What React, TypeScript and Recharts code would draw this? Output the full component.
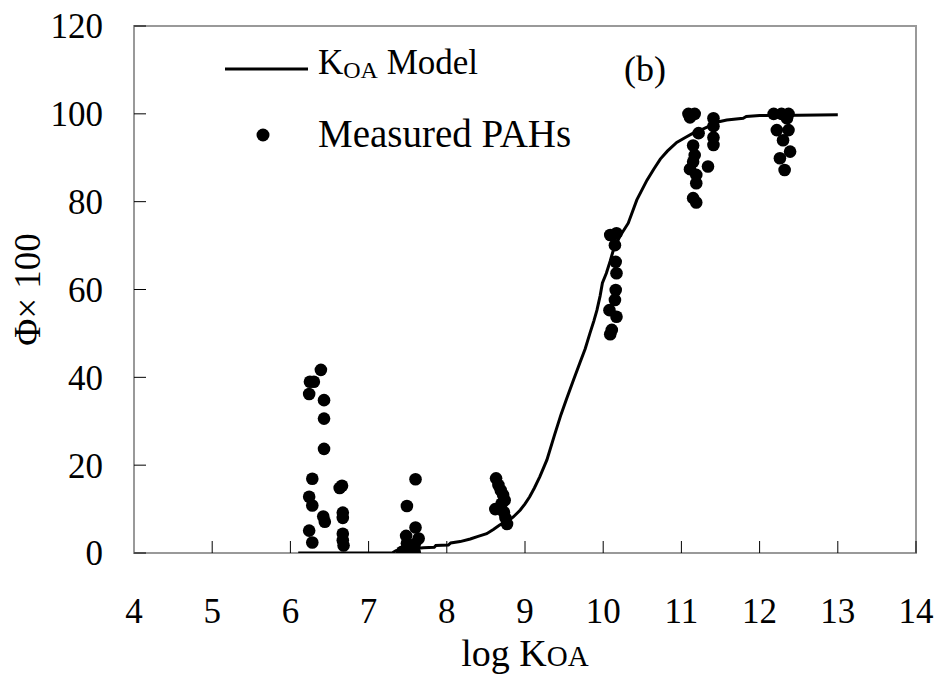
import React from "react";
import {
  ScatterChart,
  Scatter,
  XAxis,
  YAxis,
  ReferenceArea,
  Legend,
} from "recharts";

// ---- data ----
const xTicks = [4, 5, 6, 7, 8, 9, 10, 11, 12, 13, 14];
const yTicks = [0, 20, 40, 60, 80, 100, 120];

const modelLogKoa = [
  6.1, 7.3, 7.35, 7.45, 7.7, 7.84, 7.86, 8.02, 8.05, 8.17, 8.3, 8.4, 8.51, 8.6,
  8.68, 8.77, 8.85, 8.94, 9.0, 9.06, 9.12, 9.19, 9.28, 9.38, 9.46, 9.53, 9.62,
  9.7, 9.77, 9.83, 9.88, 9.92, 9.96, 9.99, 10.04, 10.09, 10.13, 10.21, 10.32,
  10.43, 10.56, 10.65, 10.73, 10.82, 10.94, 11.05, 11.15, 11.26, 11.37, 11.48,
  11.58, 11.79, 11.83, 12.0, 12.5, 13.0,
];
const modelPhi = [
  0, 0, 0.5, 0.8, 1.2, 1.3, 1.7, 1.8, 2.3, 2.6, 3.2, 3.8, 4.4, 5.4, 6.4, 7.1,
  8.2, 9.8, 11.2, 12.8, 14.8, 17.4, 21.2, 27, 31.5, 35, 39.4, 43.2, 46.5, 50,
  52.8, 55.3, 58.5, 61.5, 63.7, 66.5, 69, 72, 75.1, 80.4, 84.9, 87.5, 89.7,
  91.5, 93.5, 94.6, 95.6, 96.4, 97.3, 98.2, 98.6, 99, 99.4, 99.6, 99.7, 99.8,
];

const measuredLogKoa = [
  6.39, 6.25, 6.3, 6.24, 6.43, 6.43, 6.43, 6.28, 6.66, 6.63, 6.24, 6.28, 6.42,
  6.44, 6.67, 6.67, 6.24, 6.28, 6.67, 6.67, 6.68,
  7.6, 7.49, 7.6, 7.48, 7.64, 7.49, 7.59, 7.43, 7.59, 7.54,
  8.63, 8.66, 8.69, 8.72, 8.74, 8.7, 8.62, 8.73, 8.75, 8.77,
  10.09, 10.17, 10.15, 10.16, 10.17, 10.16, 10.15, 10.08, 10.17, 10.11, 10.09,
  11.09, 11.17, 11.11, 11.41, 11.41, 11.22, 11.41, 11.41, 11.15, 11.17, 11.15,
  11.34, 11.11, 11.19, 11.19, 11.15, 11.19,
  12.18, 12.28, 12.37, 12.35, 12.22, 12.37, 12.3, 12.39, 12.26, 12.32,
];
const measuredPhi = [
  41.7, 39.0, 39.0, 36.2, 34.8, 30.6, 23.7, 16.9, 15.3, 14.8, 12.8, 10.8, 8.3,
  7.1, 9.2, 8.0, 5.1, 2.4, 4.4, 2.9, 1.7,
  16.8, 10.7, 5.8, 3.9, 3.3, 2.2, 2.0, 0.3, 0.1, 1.0,
  17.0, 15.5, 14.3, 13.2, 12.0, 11.2, 10.0, 9.3, 8.0, 6.6,
  72.4, 72.8, 70.1, 66.3, 63.7, 59.9, 57.6, 55.3, 53.8, 50.8, 49.8,
  100, 100, 99.2, 99.0, 97.2, 95.6, 94.6, 92.9, 92.8, 90.6, 89.1, 88.0, 87.4,
  86.1, 84.2, 80.8, 79.8,
  100, 100, 100, 99.0, 96.3, 96.3, 94.0, 91.4, 89.9, 87.2,
];

const modelData = modelLogKoa.map((x, i) => ({ x, y: modelPhi[i] }));
const measuredData = measuredLogKoa.map((x, i) => ({ x, y: measuredPhi[i] }));

const FONT = "'Liberation Serif', 'Times New Roman', serif";

const Dot = (props: any) => (
  <circle cx={props.cx} cy={props.cy} r={6.3} fill="#000" />
);
const NoDot = () => <g />;

const XLabel = (props: any) => {
  const vb = props.viewBox || {};
  const cx = vb.x + vb.width / 2;
  return (
    <text
      x={cx}
      y={vb.y + 113}
      textAnchor="middle"
      fontFamily={FONT}
      fontSize={38}
      fill="#000"
    >
      <tspan>log K</tspan>
      <tspan fontSize={29}>OA</tspan>
    </text>
  );
};

const YLabel = (props: any) => {
  const vb = props.viewBox || {};
  const cx = vb.x + 27;
  const cy = vb.y + vb.height / 2;
  return (
    <text
      x={cx}
      y={cy}
      transform={`rotate(-90 ${cx} ${cy})`}
      textAnchor="middle"
      dominantBaseline="central"
      fontFamily={FONT}
      fontSize={37}
      fill="#000"
    >
      Φ× 100
    </text>
  );
};

const LegendContent = () => (
  <svg width={940} height={170} style={{ display: "block" }}>
    <line x1={225} y1={69} x2={308} y2={69} stroke="#000" strokeWidth={3} />
    <text x={318} y={74} fontFamily={FONT} fontSize={35} fill="#000">
      <tspan>K</tspan>
      <tspan fontSize={24} dy={4}>
        OA
      </tspan>
      <tspan dy={-4}> Model</tspan>
    </text>
    <circle cx={263} cy={135} r={6.5} fill="#000" />
    <text x={318} y={147} fontFamily={FONT} fontSize={39} fill="#000">
      Measured PAHs
    </text>
    <text
      x={645}
      y={81}
      textAnchor="middle"
      fontFamily={FONT}
      fontSize={36}
      fill="#000"
    >
      (b)
    </text>
  </svg>
);

export default function App() {
  return (
    <div style={{ position: "absolute", left: 0, top: 0, background: "#fff" }}>
      <ScatterChart
        width={940}
        height={675}
        margin={{ top: 26, right: 24, left: 0, bottom: 0 }}
      >
        <XAxis
          type="number"
          dataKey="x"
          domain={[4, 14]}
          ticks={xTicks}
          allowDataOverflow
          height={122}
          axisLine={{ stroke: "#999", strokeWidth: 2 }}
          tickLine={{ stroke: "#000", strokeWidth: 1 }}
          tickSize={-12}
          tickMargin={57}
          tick={{ fontFamily: FONT, fontSize: 35, fill: "#000" }}
          label={{ content: (p: any) => <XLabel {...p} /> }}
        />
        <YAxis
          type="number"
          dataKey="y"
          domain={[0, 120]}
          ticks={yTicks}
          allowDataOverflow
          width={134}
          axisLine={{ stroke: "#999", strokeWidth: 2 }}
          tickLine={{ stroke: "#000", strokeWidth: 1 }}
          tickSize={-12}
          tickMargin={43}
          tick={{ fontFamily: FONT, fontSize: 35, fill: "#000" }}
          label={{ content: (p: any) => <YLabel {...p} /> }}
        />
        <ReferenceArea
          x1={4}
          x2={14}
          y1={0}
          y2={120}
          fill="none"
          fillOpacity={0}
          stroke="#999"
          strokeWidth={2}
        />
        <Legend
          layout="horizontal"
          verticalAlign="middle"
          align="center"
          wrapperStyle={{ left: 0, top: 0, width: 940 }}
          content={() => <LegendContent />}
        />
        <Scatter
          name="KOA Model"
          data={modelData}
          line={{ stroke: "#000", strokeWidth: 3 }}
          lineType="joint"
          shape={NoDot}
          isAnimationActive={false}
        />
        <Scatter
          name="Measured PAHs"
          data={measuredData}
          shape={Dot}
          isAnimationActive={false}
        />
      </ScatterChart>
    </div>
  );
}
